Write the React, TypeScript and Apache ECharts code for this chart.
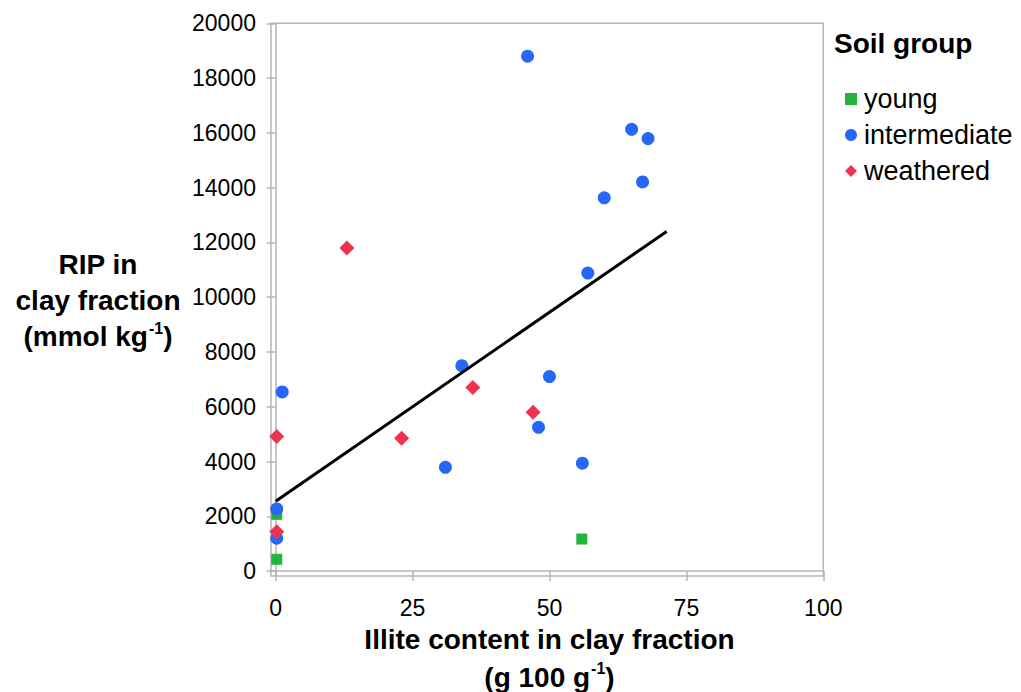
import React, { useEffect, useRef } from "react";
import * as echarts from "echarts";

const youngX = [0.2, 0.2, 55.9];
const youngY = [2070, 430, 1170];
const intermediateX = [46, 65, 68, 67, 60, 57, 34, 50, 48, 56, 31, 1.2, 0.2, 0.2];
const intermediateY = [18800, 16130, 15790, 14210, 13630, 10880, 7500, 7100, 5250, 3940, 3790, 6540, 2270, 1200];
const weatheredX = [13, 36, 47, 23, 0.2, 0.2];
const weatheredY = [11800, 6700, 5800, 4850, 4910, 1440];
const fitX = [0, 71.4];
const fitY = [2550, 12400];
const xTicks = [0, 25, 50, 75, 100];
const yTicks = [0, 2000, 4000, 6000, 8000, 10000, 12000, 14000, 16000, 18000, 20000];
const groups = ["young", "intermediate", "weathered"];

const FONT = "'Liberation Sans', Arial, sans-serif";
const AXIS_GREY = "#b5b5b5";

const zip = (xs: number[], ys: number[]) => xs.map((x, i) => [x, ys[i]]);

export default function App() {
  const ref = useRef<HTMLDivElement>(null);
  useEffect(() => {
    if (!ref.current) return;
    const chart = echarts.init(ref.current, undefined, { renderer: "svg" });
    const bold = { fontFamily: FONT, fontSize: 28, fontWeight: "bold", color: "#000" };
    const sup = { fontFamily: FONT, fontSize: 16, fontWeight: "bold", color: "#000", verticalAlign: "top", lineHeight: 16, padding: [2, 0, 0, 1] };
    chart.setOption({
      animation: false,
      grid: {
        left: 271,
        right: 197.7,
        top: 23.3,
        bottom: 116,
        show: true,
        borderColor: AXIS_GREY,
        borderWidth: 1.5,
      },
      xAxis: {
        type: "value",
        min: -0.85,
        max: 100,
        axisLine: { show: true, lineStyle: { color: AXIS_GREY, width: 1.5 } },
        axisTick: { show: true, length: 10, customValues: xTicks, lineStyle: { color: AXIS_GREY, width: 1.5 } },
        axisLabel: { customValues: xTicks, margin: 20, fontSize: 23, fontFamily: FONT, color: "#000", formatter: (v: number) => String(v) },
        splitLine: { show: false },
      },
      yAxis: {
        type: "value",
        min: -180,
        max: 20000,
        axisLine: { show: true, lineStyle: { color: AXIS_GREY, width: 1.5 } },
        axisTick: { show: true, length: 9, customValues: yTicks, lineStyle: { color: AXIS_GREY, width: 1.5 } },
        axisLabel: { customValues: yTicks, margin: 15, fontSize: 23, fontFamily: FONT, color: "#000", formatter: (v: number) => String(v) },
        splitLine: { show: false },
      },
      legend: {
        data: groups,
        orient: "vertical",
        left: 840,
        top: 79,
        itemWidth: 12,
        itemHeight: 12,
        itemGap: 6,
        textStyle: { fontSize: 27, fontFamily: FONT, color: "#000", lineHeight: 30, padding: [0, 0, 0, 2] },
      },
      graphic: [
        {
          type: "text",
          x: 834,
          y: 43,
          style: { text: "Soil group", ...bold, verticalAlign: "middle", align: "left" },
        },
        {
          type: "text",
          x: 98,
          y: 300,
          style: {
            text: "{b|RIP in}\n{b|clay fraction}\n{b|(mmol kg}{s|-1}{b|)}",
            rich: { b: { ...bold, lineHeight: 36 }, s: sup },
            align: "center",
            verticalAlign: "middle",
          },
        },
        {
          type: "text",
          x: 549.5,
          y: 658,
          style: {
            text: "{b|Illite content in clay fraction}\n{b|(g 100 g}{s|-1}{b|)}",
            rich: { b: { ...bold, lineHeight: 38 }, s: sup },
            align: "center",
            verticalAlign: "middle",
          },
        },
      ],
      series: [
        {
          name: "young",
          type: "scatter",
          symbol: "rect",
          symbolSize: 11,
          itemStyle: { color: "#22b53a", opacity: 1 },
          data: zip(youngX, youngY),
        },
        {
          name: "intermediate",
          type: "scatter",
          symbol: "circle",
          symbolSize: 13,
          itemStyle: { color: "#2767f7", opacity: 1 },
          data: zip(intermediateX, intermediateY),
        },
        {
          name: "weathered",
          type: "scatter",
          symbol: "diamond",
          symbolSize: 15,
          itemStyle: { color: "#ee3350", opacity: 1 },
          data: zip(weatheredX, weatheredY),
        },
        {
          name: "fit",
          type: "line",
          symbol: "none",
          z: 5,
          lineStyle: { color: "#000", width: 3 },
          data: zip(fitX, fitY),
        },
      ],
    });
    return () => chart.dispose();
  }, []);
  return <div ref={ref} style={{ width: 1021, height: 692, position: "absolute", left: 0, top: 0 }} />;
}
